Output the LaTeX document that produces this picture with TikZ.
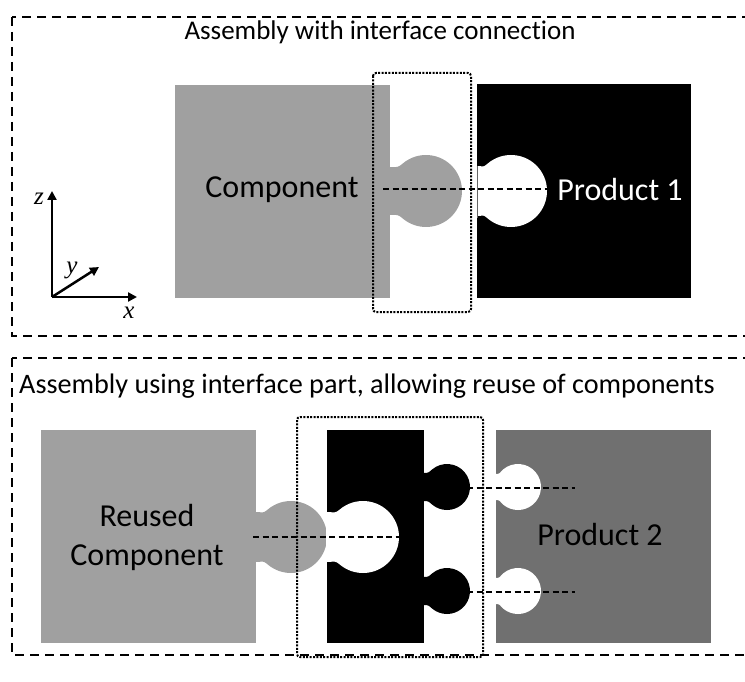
\documentclass[tikz,border=0pt]{standalone}
\usepackage{fontspec}
\setmainfont{Carlito}[Ligatures=NoCommon]
\newfontfamily\axisfont{Liberation Serif}
\usetikzlibrary{calc,arrows.meta}

\definecolor{compgray}{RGB}{160,160,160}
\definecolor{prodgray}{RGB}{112,112,112}

% bulb shaped tab: colour, base x, centre y, neck half height, circle x, radius
\newcommand\bulb[6]{%
  \pgfmathsetmacro\bk{0.2*#6}
  \fill[#1] (#2-1,#3-#4) -- (#2,#3-#4)
    .. controls (#2+\bk,#3-#4) and ($(#5,#3)+(-130:#6)+(140:\bk)$) .. ($(#5,#3)+(-130:#6)$)
    arc[start angle=-130,end angle=130,radius=#6]
    .. controls ($(#5,#3)+(130:#6)+(220:\bk)$) and (#2+\bk,#3+#4) .. (#2,#3+#4)
    -- (#2-1,#3+#4) -- cycle;}

\begin{document}
\begin{tikzpicture}[x=1pt,y=-1pt,
    panel/.style={draw=black,line width=1.5pt,dash pattern=on 9pt off 6pt},
    dotbox/.style={draw=black,line width=2pt,dash pattern=on 2pt off 1.4pt,rounded corners=3pt},
    centreline/.style={draw=black,line width=1.3pt,dash pattern=on 6pt off 3.5pt},
    axis/.style={line width=2.5pt,-{Triangle[length=9pt,width=9pt]}},
    axlabel/.style={font=\axisfont\itshape\fontsize{25}{27}\selectfont},
    title/.style={font=\fontsize{27}{32}\selectfont},
    big/.style={font=\fontsize{32}{39}\selectfont,align=center}]
    \tikzstyle{every node}+=[inner sep=0pt]
    \useasboundingbox (0,0) rectangle (745,682);

    \draw[panel] (12,17) rectangle (775,336);
    \draw[panel] (12,358) rectangle (775,655);
    \node[title] (ttltop) at (380,32) {Assembly with interface connection};
    \node[title,font=\fontsize{28.2}{32}\selectfont] (ttlbot) at (367,386) {Assembly using interface part, allowing reuse of components};

    % top: direct interface connection
    \fill[compgray] (175,85) rectangle (390,298);
    \bulb{compgray}{390}{191}{24}{426}{36}
    \fill[black] (477,84) rectangle (691,298);
    \bulb{white}{477}{191}{25}{511}{36}
    \draw[black!60,line width=0.8pt] (477,166) -- (477,218);
    \node[big] (comp) at (282,190) {Component};
    \node[big,text=white] (prod1) at (620,190) {Product 1};
    \draw[dotbox] (373,73) rectangle (471,312);
    \coordinate (c1a) at (383,189);
    \coordinate (c1b) at (548,189);
    \draw[centreline] (c1a) -- (c1b);

    % axes
    \coordinate (o) at (52,297);
    \coordinate (ax) at (137,297);
    \coordinate (ay) at (99,267);
    \coordinate (az) at (52,191);
    \draw[axis] (o) -- (ax);
    \draw[axis] (o) -- (ay);
    \draw[axis] (o) -- (az);
    \node[axlabel] (lx) at (129,313) {x};
    \node[axlabel] (ly) at (72,270) {y};
    \node[axlabel] (lz) at (39,199) {z};

    % bottom: interface part
    \fill[compgray] (41,430) rectangle (256,643);
    \bulb{compgray}{256}{537}{25}{291}{36}
    \fill[black] (327,430) rectangle (424,643);
    \bulb{white}{327}{537}{25}{363}{36}
    \bulb{black}{424}{487}{14}{447}{23}
    \bulb{black}{424}{591}{14}{447}{23}
    \fill[prodgray] (496,430) rectangle (711,643);
    \bulb{white}{496}{487}{13}{518}{23}
    \bulb{white}{496}{591}{13}{518}{23}
    \node[big] (reuse) at (147,537) {Reused\\Component};
    \node[big] (prod2) at (600,535) {Product 2};
    \draw[dotbox] (297,417) rectangle (483,657);
    \coordinate (c2a) at (253,537);
    \coordinate (c2b) at (400,537);
    \coordinate (c3a) at (467,488);
    \coordinate (c3b) at (575,488);
    \coordinate (c4a) at (467,592);
    \coordinate (c4b) at (575,592);
    \draw[centreline] (c2a) -- (c2b);
    \draw[centreline] (c3a) -- (c3b);
    \draw[centreline] (c4a) -- (c4b);
\end{tikzpicture}
\end{document}
